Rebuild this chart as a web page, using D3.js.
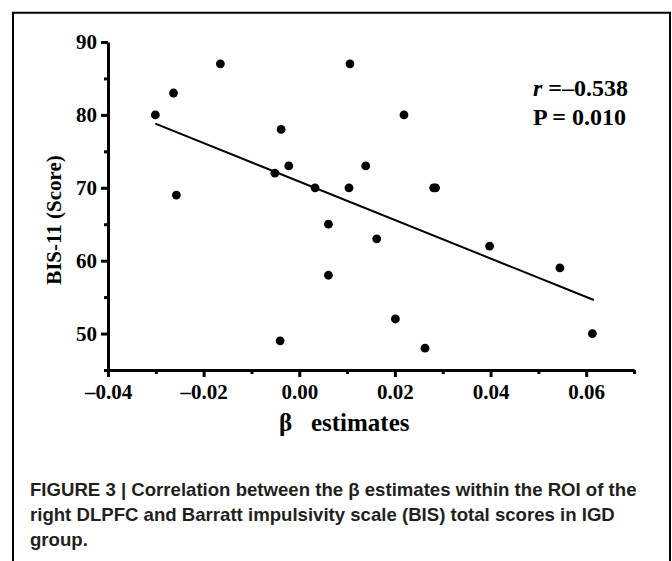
<!DOCTYPE html>
<html>
<head>
<meta charset="utf-8">
<script src="https://cdn.jsdelivr.net/npm/d3@7"></script>
<style>
  body { margin: 0; background: #fff; }
  svg { display: block; }
  .tick-label, .axis-title, .stat { font-family: "Liberation Serif", "Times New Roman", serif; font-weight: bold; fill: #000; }
  .caption { font-family: "Liberation Sans", Arial, Helvetica, sans-serif; font-weight: bold; fill: #231f20; }
</style>
</head>
<body>
<svg id="chart" width="672" height="561"></svg>
<script>
// beta estimates (x) and BIS-11 scores (y)
var betaValues = [-0.0301, -0.0263, -0.0257, -0.0165, 0.0106, 0.0219, -0.0038, -0.0022, -0.0051, 0.0139,
  0.0033, 0.0104, 0.0281, 0.0285, 0.0061, 0.0162, 0.0061, 0.0201, -0.0040, 0.0263, 0.0398, 0.0545, 0.0613];
var bisScores = [80, 83, 69, 87, 87, 80, 78, 73, 72, 73,
  70, 70, 70, 70, 65, 63, 58, 52, 49, 48, 62, 59, 50];

// fitted regression line, endpoints as drawn
var fitBeta = [-0.0301, 0.0616];
var fitScore = [78.8, 54.6];

var xMajorTicks = [-0.04, -0.02, 0.00, 0.02, 0.04, 0.06];
var xMinorTicks = [-0.03, -0.01, 0.01, 0.03, 0.05, 0.07];
var yMajorTicks = [50, 60, 70, 80, 90];
var yMinorTicks = [45, 55, 65, 75, 85];

var rValue = '\u20130.538';
var pText = 'P = 0.010';
var captionLines = [
  'FIGURE 3 | Correlation between the \u03b2 estimates within the ROI of the',
  'right DLPFC and Barratt impulsivity scale (BIS) total scores in IGD',
  'group.'
];

var svg = d3.select('#chart');

// frame around the figure (open at the bottom)
svg.append('path')
  .attr('d', 'M13,570V12.7H670V570')
  .attr('fill', 'none')
  .attr('stroke', '#000')
  .attr('stroke-width', 2);

var x = d3.scaleLinear().domain([-0.04, 0.07]).range([108, 634]);
var y = d3.scaleLinear().domain([45, 90]).range([370, 42]);

var fmtX = function(d){ return d3.format('.2f')(d).replace('\u2212', '\u2013'); };

// x axis
var gx = svg.append('g').attr('transform', 'translate(0,' + y(45) + ')');
gx.call(d3.axisBottom(x).tickValues(xMajorTicks).tickSize(7).tickSizeOuter(0).tickFormat(fmtX).tickPadding(7));
gx.append('g').call(d3.axisBottom(x).tickValues(xMinorTicks).tickSize(4).tickSizeOuter(0).tickFormat(''))
  .select('.domain').remove();

// y axis
var gy = svg.append('g').attr('transform', 'translate(' + x(-0.04) + ',0)');
gy.call(d3.axisLeft(y).tickValues(yMajorTicks).tickSize(7).tickSizeOuter(0).tickFormat(d3.format('d')).tickPadding(4));
gy.append('g').call(d3.axisLeft(y).tickValues(yMinorTicks).tickSize(4).tickSizeOuter(0).tickFormat(''))
  .select('.domain').remove();

svg.selectAll('.domain').attr('stroke', '#000').attr('stroke-width', 3);
svg.selectAll('.tick line').attr('stroke', '#000').attr('stroke-width', 3);
svg.selectAll('.tick text')
  .attr('class', 'tick-label')
  .style('font-size', '21px')
  .attr('font-family', null)
  .attr('font-size', null);

// axis titles
svg.append('text')
  .attr('class', 'axis-title')
  .attr('x', 279)
  .attr('y', 431)
  .style('font-size', '25px')
  .style('white-space', 'pre')
  .text('\u03b2   estimates');

svg.append('text')
  .attr('class', 'axis-title')
  .attr('transform', 'translate(61,220) rotate(-90)')
  .attr('text-anchor', 'middle')
  .style('font-size', '21px')
  .text('BIS-11 (Score)');

// regression line
var line = d3.line()
  .x(function(d){ return x(d[0]); })
  .y(function(d){ return y(d[1]); });
svg.append('path')
  .datum(d3.zip(fitBeta, fitScore))
  .attr('d', line)
  .attr('fill', 'none')
  .attr('stroke', '#000')
  .attr('stroke-width', 2);

// points
svg.append('g').selectAll('circle')
  .data(d3.zip(betaValues, bisScores))
  .enter().append('circle')
  .attr('cx', function(d){ return x(d[0]); })
  .attr('cy', function(d){ return y(d[1]); })
  .attr('r', 4.4)
  .attr('fill', '#000');

// correlation stats
var st1 = svg.append('text').attr('class', 'stat').attr('x', 533).attr('y', 96).style('font-size', '24px');
st1.append('tspan').style('font-style', 'italic').text('r');
st1.append('tspan').style('white-space', 'pre').text(' =' + rValue);
svg.append('text').attr('class', 'stat').attr('x', 533).attr('y', 125).style('font-size', '24px').text(pText);

// caption
svg.append('g').selectAll('text')
  .data(captionLines)
  .enter().append('text')
  .attr('class', 'caption')
  .attr('x', 30)
  .attr('y', function(d, i){ return 495.5 + i * 25; })
  .style('font-size', '18.6px')
  .text(function(d){ return d; });
</script>
</body>
</html>
